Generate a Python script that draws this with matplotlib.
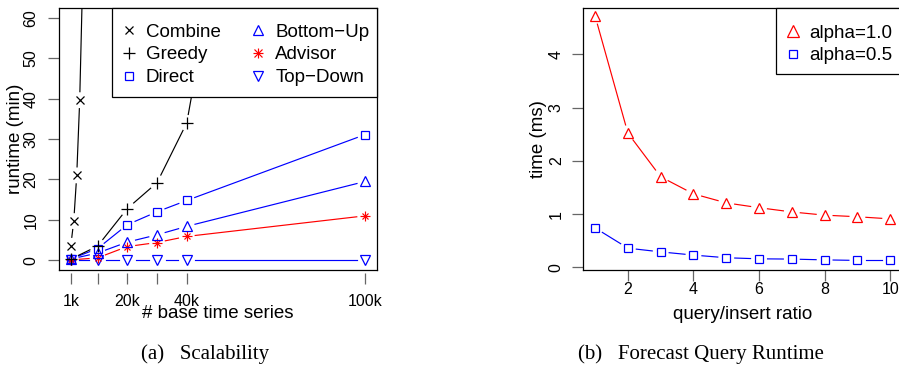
import numpy as np
import matplotlib
matplotlib.use("Agg")
import matplotlib.pyplot as plt
from matplotlib.lines import Line2D
from matplotlib.patches import Rectangle

plt.rcParams['font.family'] = ['Liberation Sans', 'DejaVu Sans']

# scalability: runtime in minutes against number of base time series (thousands)
n_combine = [1, 2, 3, 4, 5]
combine = [3.6, 9.7, 21.0, 39.6, 70.0]
n_greedy = [1, 10, 20, 30, 40, 50]
greedy = [0.3, 3.5, 12.8, 19.2, 34.0, 75.0]
n_all = [1, 10, 20, 30, 40, 100]
direct = [0.3, 2.9, 8.8, 12.0, 14.8, 31.1]
bottom_up = [0.3, 1.8, 4.5, 6.3, 8.4, 19.5]
advisor = [0.1, 0.6, 3.4, 4.4, 5.9, 11.0]
top_down = [0.0, 0.0, 0.0, 0.0, 0.0, 0.0]
x_ticks = [1, 10, 20, 30, 40, 100]
x_ticklabels = ['1k', '', '20k', '', '40k', '100k']

# forecast query runtime (ms) against query/insert ratio
ratio = [1, 2, 3, 4, 5, 6, 7, 8, 9, 10]
alpha_10 = [4.72, 2.52, 1.70, 1.38, 1.21, 1.12, 1.04, 0.98, 0.95, 0.91]
alpha_05 = [0.74, 0.36, 0.29, 0.23, 0.18, 0.16, 0.155, 0.14, 0.13, 0.13]

W, H = 899, 368
fig = plt.figure(figsize=(W / 100, H / 100), dpi=100)

TICK_C = '#666666'
ASTER = ['+', 'x']   # R's pch 8: a plus with a cross on top


def box_axes(l, t, r, b):
    return fig.add_axes([l / W, 1 - b / H, (r - l) / W, (b - t) / H])


def gapped(ax, x, y, gap=8.5, **kw):
    # lines between points with a gap around each point (like R type="b")
    pts = ax.transData.transform(np.column_stack([x, y]))
    inv = ax.transData.inverted()
    for p0, p1 in zip(pts[:-1], pts[1:]):
        d = p1 - p0
        L = np.hypot(*d)
        if L <= 2 * gap:
            continue
        u = d / L
        seg = inv.transform(np.array([p0 + u * gap, p1 - u * gap]))
        ax.plot(seg[:, 0], seg[:, 1], lw=0.85, **kw)


def marks(marker, ms, color, x=(), y=()):
    if marker == ASTER:
        return [Line2D(x, y, ls='none', marker='+', ms=ms, mec=color, mew=0.85),
                Line2D(x, y, ls='none', marker='x', ms=ms / 1.414, mec=color,
                       mew=0.85)]
    return [Line2D(x, y, ls='none', marker=marker, ms=ms, mfc='none', mec=color,
                   mew=0.9)]


def series(ax, x, y, color, marker, ms):
    gapped(ax, x, y, color=color)
    for ln in marks(marker, ms, color, x, y):
        ax.add_line(ln)


def style_axes(ax):
    for s in ax.spines.values():
        s.set_linewidth(0.9)
        s.set_color('black')
    ax.tick_params(direction='out', length=8, width=0.9, color=TICK_C,
                   labelsize=11.5)
    for lab in ax.get_yticklabels():
        lab.set_rotation(90)
        lab.set_va('center')


def legend_box(ax, l, t, r, b, box):
    # white framed box in pixel coordinates of the axes box
    al, at, ar, ab = box
    x0 = (l - al) / (ar - al)
    y0 = (ab - b) / (ab - at)
    rect = Rectangle((x0, y0), (r - l) / (ar - al), (b - t) / (ab - at),
                     transform=ax.transAxes, facecolor='white',
                     edgecolor='black', lw=0.9, zorder=4.5, clip_on=False)
    ax.add_patch(rect)


def to_axes(px, py, box):
    al, at, ar, ab = box
    return ((px - al) / (ar - al), (ab - py) / (ab - at))


# ---- (a) scalability ----
box1 = (59, 8, 377, 270)
ax1 = box_axes(*box1)
ax1.set_xlim(1 - 0.04 * 99, 100 + 0.04 * 99)
ax1.set_ylim(-2.4, 62.4)
ax1.set_xticks(x_ticks)
ax1.set_xticklabels(x_ticklabels)
ax1.set_yticks([0, 10, 20, 30, 40, 50, 60])
style_axes(ax1)
ax1.spines['bottom'].set_position(('outward', 2))
ax1.spines['bottom'].set_visible(False)
ax1.plot([0, 1], [0, 0], transform=ax1.transAxes, color='black', lw=0.9,
         clip_on=False)
ax1.tick_params(axis='x', pad=7)
ax1.tick_params(axis='y', pad=6.7)

series(ax1, n_all, top_down, 'blue', 'v', 6.5)
series(ax1, n_all, advisor, 'red', ASTER, 6.7)
series(ax1, n_all, bottom_up, 'blue', '^', 6.5)
series(ax1, n_all, direct, 'blue', 's', 5.3)
series(ax1, n_greedy, greedy, 'black', '+', 8.4)
series(ax1, n_combine, combine, 'black', 'x', 5.8)

ax1.set_xlabel('# base time series', fontsize=13.5, labelpad=-2.5)
ax1.set_ylabel('runtime (min)', fontsize=13.5, labelpad=0)

h1 = [tuple(marks('x', 6, 'black')), tuple(marks('+', 8.5, 'black')),
      tuple(marks('s', 5.6, 'blue')), tuple(marks('^', 7, 'blue')),
      tuple(marks(ASTER, 7.2, 'red')), tuple(marks('v', 7, 'blue'))]
lab1 = ['Combine', 'Greedy', 'Direct', 'Bottom\u2212Up', 'Advisor', 'Top\u2212Down']
legend_box(ax1, 112, 8, 377, 97, box1)
leg1 = ax1.legend(h1, lab1, ncol=2, loc='upper left',
                  bbox_to_anchor=to_axes(121.5, 23.5, box1), borderaxespad=0,
                  borderpad=0, frameon=False, fontsize=13.5, handlelength=0.8,
                  handletextpad=0.5, columnspacing=1.6, labelspacing=0.3)
leg1.set_zorder(5)

# ---- (b) forecast query runtime ----
box2 = (583.3, 8, 902, 270)
ax2 = box_axes(*box2)
ax2.set_xlim(0.64, 10.36)
ax2.set_ylim(-0.05, 4.87)
ax2.set_xticks([2, 4, 6, 8, 10])
ax2.set_yticks([0, 1, 2, 3, 4])
style_axes(ax2)
ax2.tick_params(axis='x', pad=1)
ax2.tick_params(axis='y', pad=6)

series(ax2, ratio, alpha_10, 'red', '^', 7.2)
series(ax2, ratio, alpha_05, 'blue', 's', 5.3)

ax2.set_xlabel('query/insert ratio', fontsize=13.5, labelpad=6)
ax2.set_ylabel('time (ms)', fontsize=13.5, labelpad=1.6)

h2 = [tuple(marks('^', 8, 'red')), tuple(marks('s', 5.6, 'blue'))]
legend_box(ax2, 776, 8, 910, 74, box2)
leg2 = ax2.legend(h2, ['alpha=1.0', 'alpha=0.5'], loc='upper left',
                  bbox_to_anchor=to_axes(785.2, 24.5, box2), borderaxespad=0,
                  borderpad=0, frameon=False, fontsize=13.5, handlelength=0.8,
                  handletextpad=0.5, labelspacing=0.3)
leg2.set_zorder(5)

# captions
fig.text(205 / W, 1 - 354 / H, '(a)   Scalability', ha='center', va='center',
         fontsize=15, family=['Liberation Serif', 'DejaVu Serif'])
fig.text(701 / W, 1 - 354 / H, '(b)   Forecast Query Runtime', ha='center',
         va='center', fontsize=15, family=['Liberation Serif', 'DejaVu Serif'])

fig.savefig('out.png', dpi=100)
